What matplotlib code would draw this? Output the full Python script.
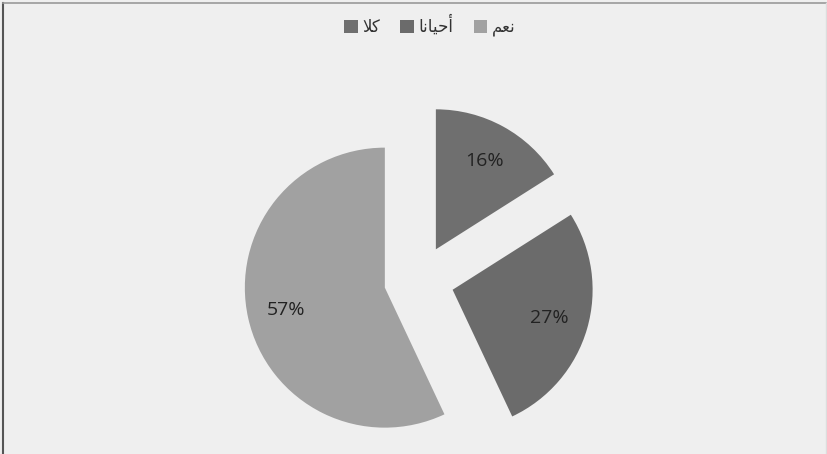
import matplotlib
matplotlib.use("Agg")
import matplotlib.pyplot as plt
from matplotlib.patches import Patch
from matplotlib.lines import Line2D

# Data (Excel RTL pie: first category at 12 o'clock, counter-clockwise)
categories = ["نعم", "أحيانا", "كلا"]
values = [57, 27, 16]
colors = ["#a1a1a1", "#6b6b6b", "#6f6f6f"]

# matplotlib has no Arabic shaping, so map each word to its
# presentation forms in visual (left-to-right) order
display_forms = {
    "نعم": "\uFEE2\uFECC\uFEE7",
    "أحيانا": "\uFE8E\uFEE7\uFE8E\uFEF4\uFEA3\uFE83",
    "كلا": "\uFEFC\uFEDB",
}

W, H = 828, 454
fig = plt.figure(figsize=(W / 100, H / 100), dpi=100)
fig.patch.set_facecolor("#efefef")

ax = fig.add_axes([0, 0, 1, 1])

# explode is in data units here (axes span the figure in pixels)
wedges, texts, autotexts = ax.pie(
    values,
    colors=colors,
    startangle=90,
    counterclock=True,
    explode=[35] * len(values),
    radius=140,
    center=(419, H - 280),
    autopct="%1.0f%%",
    pctdistance=0.72,
    textprops={"fontsize": 14, "color": "#222222", "family": "Open Sans"},
    frame=True,
)
ax.set_xlim(0, W)
ax.set_ylim(0, H)
ax.set_aspect("equal")
ax.axis("off")

# legend: entries laid out right-to-left, square marker left of text
handles = [Patch(facecolor=c, edgecolor="none") for c in colors]
labels = [display_forms[c] for c in categories]
leg = fig.legend(
    handles[::-1], labels[::-1],
    loc="center", bbox_to_anchor=(430 / W, 1 - 26 / H),
    ncol=3, frameon=False,
    handlelength=0.8, handleheight=0.8, handletextpad=0.3, columnspacing=1.2,
    prop={"family": "DejaVu Sans", "size": 12},
)
for t in leg.get_texts():
    t.set_color("#333333")

# chart border
fig.add_artist(Line2D([3 / W, 3 / W], [0, 1 - 3 / H], color="#555555", lw=1.5))
fig.add_artist(Line2D([3 / W, 1 - 2 / W], [1 - 3 / H, 1 - 3 / H], color="#999999", lw=1.2))
fig.add_artist(Line2D([1 - 2 / W, 1 - 2 / W], [0, 1 - 3 / H], color="#dddddd", lw=1))

fig.savefig("out.png", dpi=100, facecolor=fig.get_facecolor())
